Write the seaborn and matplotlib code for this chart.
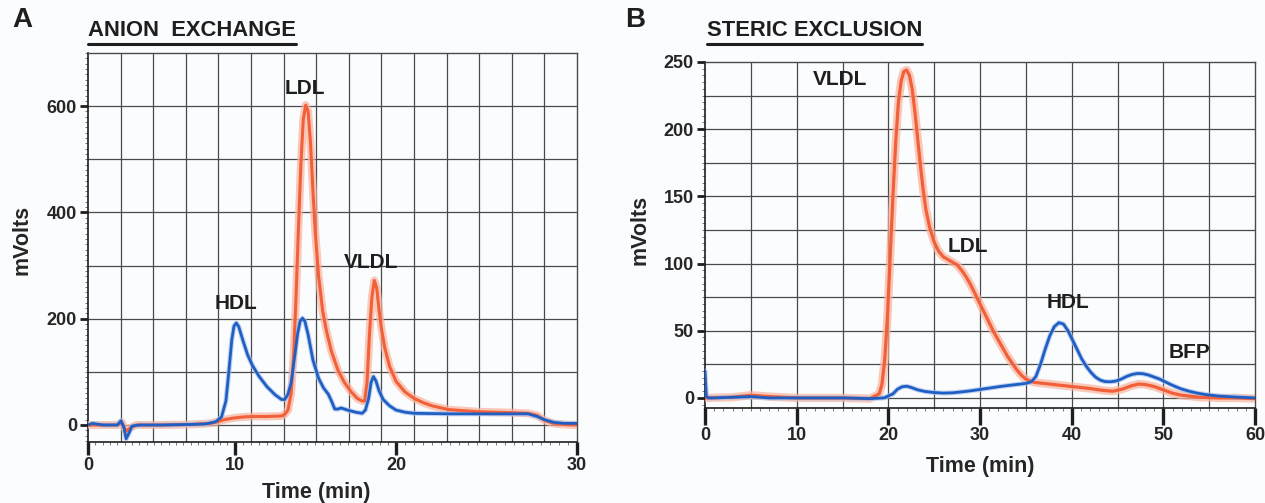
import numpy as np
import matplotlib
matplotlib.use("Agg")
import matplotlib.pyplot as plt
import seaborn as sns
from matplotlib.ticker import MultipleLocator
from matplotlib.lines import Line2D

# Panel A - anion exchange (time in min as labelled, mVolts)
a_time_blue = [0, 0.3, 1, 2.0, 2.25, 2.45, 2.6, 2.8, 3.0, 3.5, 5, 7, 8.0, 8.7, 9.1, 9.4, 9.6, 9.8,
               9.95, 10.1, 10.25, 10.5, 10.8, 11.1, 11.5, 12.0, 12.5, 12.9, 13.1, 13.3, 13.5, 13.7,
               13.9, 14.05, 14.2, 14.35, 14.55, 14.85, 15.2, 15.5, 15.8, 16.0, 16.2, 16.4, 16.6,
               17.0, 17.5, 17.9, 18.1, 18.3, 18.45, 18.6, 18.75, 18.95, 19.2, 19.6, 20.0, 20.5,
               21.0, 23, 25, 27.3, 27.8, 28.2, 28.7, 29.3, 30]
a_mv_blue = [0, 3, 0, 0, 8, -5, -26, -15, -2, 0, 0, 1, 2, 6, 15, 45, 100, 160,
             186, 192, 185, 160, 132, 112, 92, 72, 57, 48, 48, 58, 80, 125,
             172, 195, 201, 195, 170, 122, 88, 70, 58, 45, 30, 30, 32,
             28, 24, 22, 28, 50, 80, 91, 83, 64, 48, 36, 28, 24,
             22, 21, 21, 21, 16, 10, 5, 3, 3]
a_time_red = [0, 1, 2.0, 2.3, 2.6, 2.9, 3.3, 5, 7, 8.3, 8.8, 9.3, 9.9, 10.5, 11.1, 12.0, 12.9,
              13.1, 13.3, 13.5, 13.65, 13.8, 13.95, 14.1, 14.25, 14.4, 14.55, 14.7, 14.85, 15.0,
              15.2, 15.45, 15.7, 16.0, 16.4, 16.8, 17.2, 17.6, 17.9, 18.05, 18.2, 18.35, 18.5,
              18.65, 18.8, 18.95, 19.1, 19.3, 19.6, 20.0, 20.5, 21.0, 21.5, 22.0, 22.9, 24.5,
              26.6, 27.3, 27.8, 28.2, 28.6, 28.9, 29.5, 30]
a_mv_red = [0, 0, 0, 5, -12, -5, 0, 0, 1, 3, 6, 10, 13, 15, 16, 16, 17,
            20, 28, 60, 130, 240, 370, 490, 575, 602, 590, 530, 440, 360,
            280, 215, 175, 138, 103, 80, 63, 50, 45, 45, 80, 170, 240,
            272, 258, 215, 180, 145, 110, 82, 62, 50, 42, 36, 29, 25,
            23, 22, 18, 9, 4, 2, 0.5, 0]

# Panel B - steric exclusion
b_time_blue = [0, 0.15, 0.4, 1, 3, 5, 7, 10, 15, 18, 19.5, 20.5, 21.0, 21.5, 22.0, 22.5, 23.2,
               24.0, 25, 26, 27, 28, 29, 30, 31, 32, 33, 34, 35, 35.6, 36.1, 36.6, 37.1, 37.6,
               38.1, 38.6, 39.1, 39.6, 40.1, 40.6, 41.1, 41.6, 42.1, 42.6, 43.1, 43.6, 44.2,
               44.8, 45.4, 46.0, 46.6, 47.2, 47.8, 48.4, 49.0, 49.6, 50.2, 50.8, 51.4, 52.0,
               52.8, 53.6, 54.6, 56, 58, 60]
b_mv_blue = [20, 1, 0, 0, 0.5, 1, 0, 0, 0, -0.5, 0, 3, 6.5, 8.3, 8.7, 7.8, 6,
             4.8, 4, 3.6, 3.8, 4.5, 5.3, 6.3, 7.3, 8.3, 9.2, 10, 10.8, 12, 16, 25, 36, 46,
             53, 56, 55, 50, 43, 36, 29, 23.5, 19, 15.5, 13.3, 12.2, 12,
             12.5, 14, 16, 17.5, 18.2, 18, 17, 15.5, 14, 12, 10, 8.2, 6.6,
             5, 3.7, 2.5, 1.4, 0.6, 0]
b_time_red = [0, 3, 5, 7, 10, 15, 18, 19.0, 19.3, 19.6, 19.9, 20.2, 20.5, 20.8, 21.1, 21.4,
              21.7, 22.0, 22.3, 22.6, 22.9, 23.2, 23.5, 23.8, 24.1, 24.5, 25.0, 25.5, 26.0,
              26.5, 27.0, 27.5, 28.0, 28.5, 29.0, 29.5, 30.0, 30.5, 31.0, 31.5, 32.0, 32.5,
              33.0, 33.5, 34.0, 34.5, 35.0, 35.5, 36.0, 38.0, 40.0, 42.0, 43.5, 44.5, 45.5,
              46.5, 47.3, 48.0, 49.0, 50.0, 51.0, 52.0, 54.0, 56.0, 58.0, 60.0]
b_mv_red = [0, 0.5, 2, 1, 0, 0, -0.5, 3, 10, 28, 60, 105, 150, 190, 220, 236,
            243, 244, 240, 230, 213, 193, 173, 155, 140, 127, 116, 109, 105,
            103, 101, 99, 95, 90, 84, 77, 70, 63, 56, 49, 43, 37,
            31, 26, 21, 17, 14, 12.5, 11.5, 10, 8.5, 7, 5.5, 5, 6.5,
            9, 10.3, 10, 8.5, 6, 3.5, 2, 0.5, 0, 0, -0.5]

a_xticks = [0, 10, 20, 30]
a_yticks = [0, 200, 400, 600]
b_xticks = [0, 10, 20, 30, 40, 50, 60]
b_yticks = [0, 50, 100, 150, 200, 250]

a_peaks = {"HDL": (10.07, 229), "LDL": (14.33, 634), "VLDL": (18.48, 306)}
b_peaks = {"VLDL": (14.7, 237), "LDL": (28.7, 113), "HDL": (39.6, 71), "BFP": (52.9, 34)}

# the instrument grid in A is uniform but the printed time labels are not
A_MAP_T = [-100, 0, 10, 20, 30, 130]
A_MAP_P = [-100, 0, 9.0, 18.9, 30, 130]

BG = "#fbfcfe"
GRID = "#4a4a4a"
INK = "#1e1e1e"
RED, RED_GLOW = "#f2603a", "#f9b39c"
BLUE, BLUE_GLOW = "#1f5fc4", "#a9c0ec"

sns.set_style("white")
plt.rcParams["font.family"] = ["Liberation Sans", "DejaVu Sans"]
plt.rcParams["font.weight"] = "bold"
plt.rcParams["axes.labelweight"] = "bold"
plt.rcParams["text.color"] = INK


def a_fwd(t):
    return np.interp(t, A_MAP_T, A_MAP_P)


def a_inv(p):
    return np.interp(p, A_MAP_P, A_MAP_T)


def draw_trace(ax, t, v, color, glow, lw, glow_w):
    sns.lineplot(x=t, y=v, ax=ax, color=glow, lw=lw * glow_w, alpha=0.7,
                 estimator=None, sort=False, zorder=3)
    sns.lineplot(x=t, y=v, ax=ax, color=color, lw=lw, estimator=None, sort=False, zorder=4)


def style_axes(ax, vgrid, hgrid, xlen):
    ax.set_facecolor(BG)
    for v in vgrid:
        ax.axvline(v, color=GRID, lw=0.9, zorder=1)
    for h in hgrid:
        ax.axhline(h, color=GRID, lw=0.9, zorder=1)
    for s in ["top", "right"]:
        ax.spines[s].set_color(GRID)
        ax.spines[s].set_linewidth(1.0)
    for s in ["left", "bottom"]:
        ax.spines[s].set_color(INK)
        ax.spines[s].set_linewidth(1.2)
    ax.tick_params(axis="y", which="major", direction="out", length=6, width=2.0,
                   color=INK, labelsize=13, pad=2, left=True)
    ax.tick_params(axis="x", which="major", direction="out", length=xlen, width=2.4,
                   color=INK, labelsize=13, pad=2, bottom=True)
    ax.tick_params(which="minor", direction="out", length=2.2, width=0.7, color="#777",
                   left=True, bottom=True)
    ax.set_xlabel("Time (min)", fontsize=15.5)
    ax.set_ylabel("mVolts", fontsize=15.5)
    ax.xaxis.label.set_va("center")
    ax.yaxis.label.set_va("center")


fig = plt.figure(figsize=(12.65, 5.03), dpi=100, facecolor=BG)
W, H = 1265, 503

# ---- Panel A
axA = fig.add_axes([88 / W, 1 - 442 / H, 489 / W, 389 / H])
axA.set_xscale("function", functions=(a_fwd, a_inv))
draw_trace(axA, a_time_red, a_mv_red, RED, RED_GLOW, 2.2, 2.6)
draw_trace(axA, a_time_blue, a_mv_blue, BLUE, BLUE_GLOW, 2.0, 1.8)
axA.set_xlim(0, 30)
axA.set_ylim(-32, 700)
axA.set_xticks(a_xticks)
axA.set_yticks(a_yticks)
axA.xaxis.set_minor_locator(MultipleLocator(0.5))
axA.yaxis.set_minor_locator(MultipleLocator(10))
style_axes(axA, a_inv(np.arange(2, 30, 2)), np.arange(0, 700, 100), 9)
axA.xaxis.set_label_coords(0.466, -0.13)
axA.yaxis.set_label_coords(-0.135, 0.52)
for name, (tx, ty) in a_peaks.items():
    axA.text(tx, ty, name, ha="center", va="center", fontsize=15, zorder=5)

# ---- Panel B
axB = fig.add_axes([705 / W, 1 - 408 / H, 550 / W, 346 / H])
draw_trace(axB, b_time_red, b_mv_red, RED, RED_GLOW, 2.3, 2.6)
draw_trace(axB, b_time_blue, b_mv_blue, BLUE, BLUE_GLOW, 2.0, 1.8)
axB.set_xlim(0, 60)
axB.set_ylim(-7.5, 250)
axB.set_xticks(b_xticks)
axB.set_yticks(b_yticks)
axB.xaxis.set_minor_locator(MultipleLocator(1))
axB.yaxis.set_minor_locator(MultipleLocator(5))
style_axes(axB, np.arange(5, 60, 5), np.arange(0, 250, 25), 12)
axB.xaxis.set_label_coords(0.5, -0.17)
axB.yaxis.set_label_coords(-0.118, 0.514)
for name, (tx, ty) in b_peaks.items():
    axB.text(tx, ty, name, ha="center", va="center", fontsize=15, zorder=5)

# ---- panel letters and underlined titles
fig.text(22 / W, 1 - 20 / H, "A", fontsize=20, ha="center", va="center")
fig.text(635 / W, 1 - 20 / H, "B", fontsize=20, ha="center", va="center")
titles = [
    fig.text(88 / W, 1 - 31 / H, "ANION  EXCHANGE", fontsize=15.8, ha="left", va="center"),
    fig.text(707 / W, 1 - 31 / H, "STERIC EXCLUSION", fontsize=15.8, ha="left", va="center"),
]
fig.canvas.draw()
renderer = fig.canvas.get_renderer()
for t in titles:
    bb = t.get_window_extent(renderer).transformed(fig.transFigure.inverted())
    fig.add_artist(Line2D([bb.x0, bb.x1], [bb.y0 - 2 / H, bb.y0 - 2 / H],
                          transform=fig.transFigure, color=INK, lw=2.2))

fig.savefig("out.png", dpi=100, facecolor=BG)
